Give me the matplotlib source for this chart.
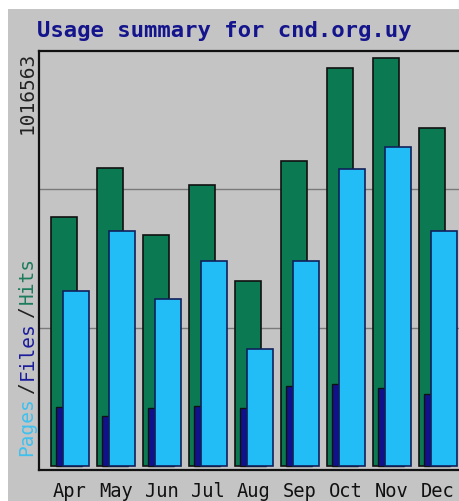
import matplotlib
matplotlib.use("Agg")
import matplotlib.pyplot as plt
from matplotlib.patches import Rectangle
import numpy as np

months = ["Apr", "May", "Jun", "Jul", "Aug", "Sep", "Oct", "Nov", "Dec"]
hits = [609900, 730000, 565800, 688300, 453200, 747100, 974900, 999400, 827900]
files = [144500, 122500, 142100, 147000, 142100, 196000, 200900, 191100, 176400]
pages = [428700, 575600, 409100, 502100, 286600, 502100, 727500, 781400, 575600]
max_val = 1016563
title = "Usage summary for cnd.org.uy"

W, H = 459, 502
fig = plt.figure(figsize=(W / 100, H / 100), dpi=100, facecolor="white")

gray = "#c4c4c4"
fig.patches.append(Rectangle((8 / W, 0), 1, (H - 10) / H, transform=fig.transFigure,
                             facecolor=gray, edgecolor="none", zorder=-10))

# plot area in pixels
left, top, bottom, right = 39, 52, 471, 472
ax = fig.add_axes([left / W, (H - bottom) / H, (right - left) / W, (bottom - top) / H])
ax.set_facecolor(gray)

px = 1 / 46.0
bw = 26 * px
x = np.arange(len(months))
x0 = -12 * px
ax.set_xlim(x0, x0 + (right - left) * px)
scale = max_val / 415.0
ax.set_ylim(-4 * scale, max_val)

ax.bar(x, hits, width=bw, align="edge", color="#0b7a52", edgecolor="#111111", linewidth=1.2, zorder=3)
ax.bar(x + 5 * px, files, width=bw, align="edge", color="#10128c", edgecolor="#111111", linewidth=1.0, zorder=4)
ax.bar(x + 12 * px, pages, width=bw, align="edge", color="#22bdf7", edgecolor="#10205a", linewidth=1.2, zorder=5)

for g in (max_val / 3, 2 * max_val / 3):
    ax.axhline(g, color="#7a7a7a", linewidth=1, zorder=1)

ax.set_xticks([])
ax.set_yticks([])
for s in ("top", "left", "bottom"):
    ax.spines[s].set_color("#111111")
    ax.spines[s].set_linewidth(1.6)
ax.spines["right"].set_visible(False)

for i, m in enumerate(months):
    ax.text(i + (12 * px + bw) / 2, -(492 - bottom) / (bottom - top), m,
            transform=ax.get_xaxis_transform(), ha="center", va="center",
            fontsize=13.5, family="DejaVu Sans Mono", color="#111111")

fig.text(37 / W, (H - 31) / H, title, ha="left", va="center", fontsize=16,
         fontweight="bold", family="DejaVu Sans Mono", color="#14148c")

fig.text(27 / W, (H - 52) / H, str(max_val), rotation=90, ha="center", va="top",
         fontsize=14, family="DejaVu Sans Mono", color="#222222")

# multi-coloured rotated legend label
fs = 14
cw = fs * 100 / 72 * 0.602
segs = [("Pages", "#3fc0ee"), ("/", "#222222"), ("Files", "#1c1c9c"),
        ("/", "#222222"), ("Hits", "#1c7c5c")]
ypix = 456
for txt, col in segs:
    fig.text(27 / W, (H - ypix) / H, txt, rotation=90, ha="center", va="bottom",
             fontsize=fs, family="DejaVu Sans Mono", color=col)
    ypix -= len(txt) * cw + 3

fig.savefig("out.png", dpi=100, facecolor=fig.get_facecolor())
